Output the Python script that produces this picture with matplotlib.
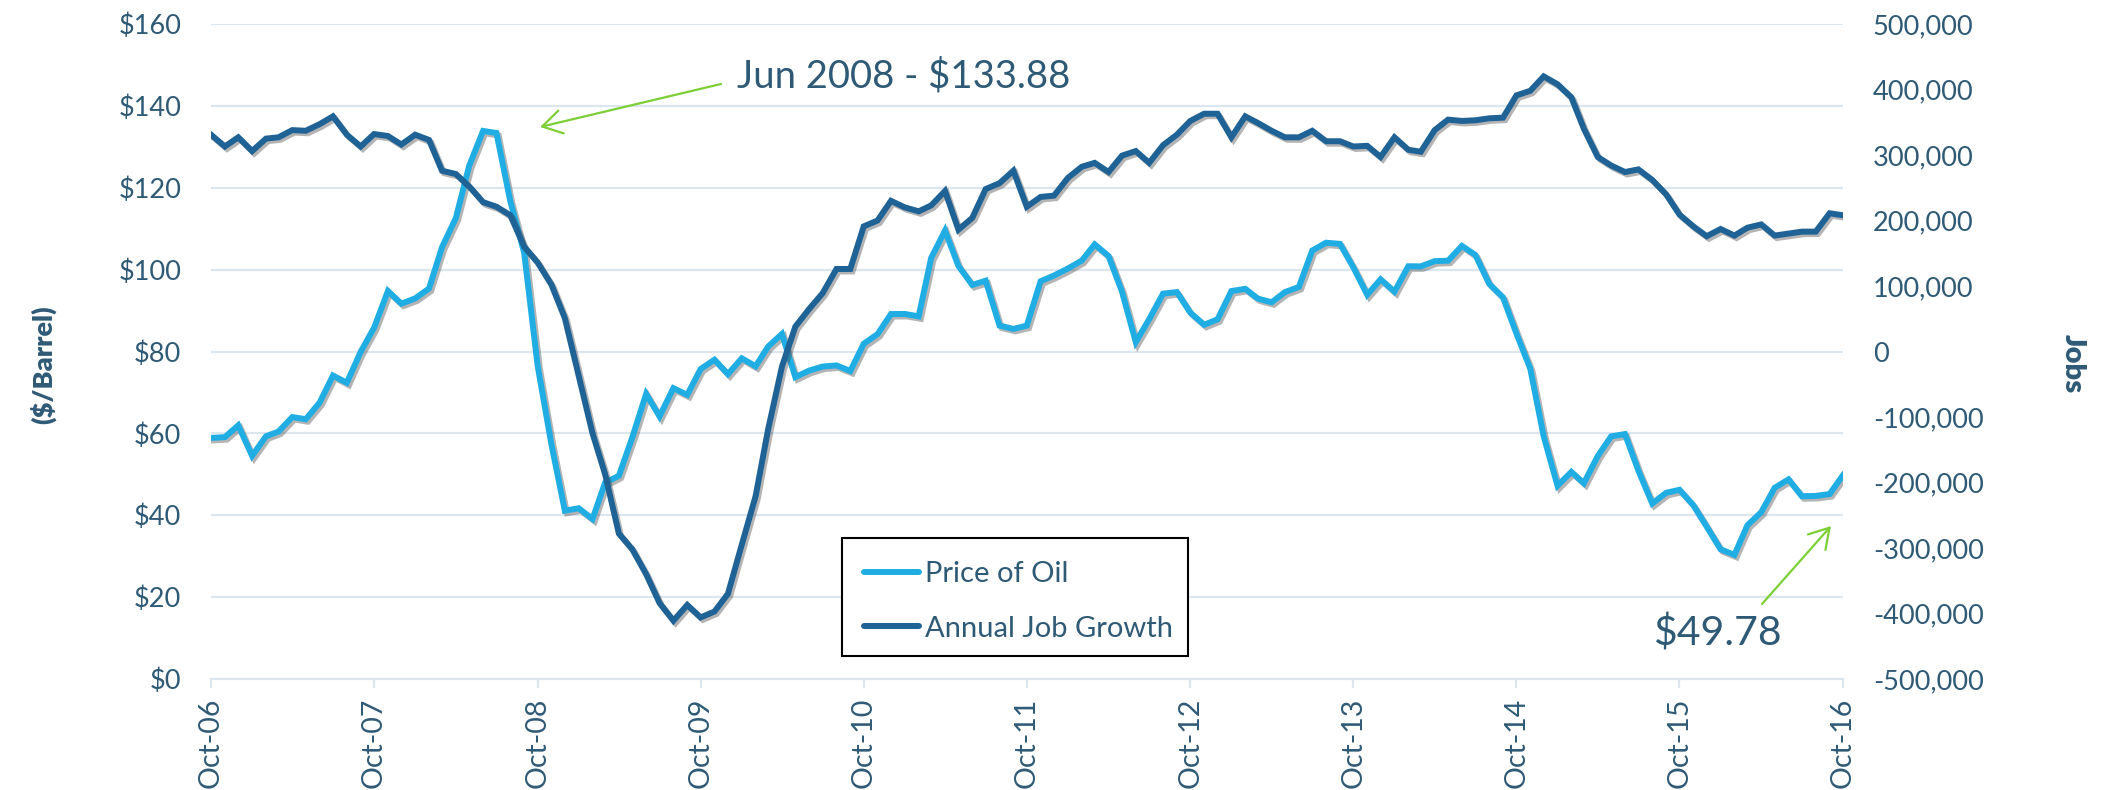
import matplotlib
matplotlib.use("Agg")
import matplotlib.pyplot as plt
import matplotlib.patheffects as pe
from matplotlib.lines import Line2D
from matplotlib.patches import Rectangle
import pandas as pd

plt.rcParams['font.family'] = ['Lato', 'DejaVu Sans']

# ---------------- data ----------------
start_month = "2006-10-01"
n_months = 121

oil_price = [
    58.89, 59.08, 61.96,
    54.51, 59.28, 60.44, 63.98, 63.46, 67.49, 74.12, 72.36, 79.92, 85.80, 94.77, 91.69,
    92.97, 95.39, 105.45, 112.58, 125.40, 133.88, 133.37, 116.67, 104.11, 76.61, 57.31, 41.12,
    41.71, 39.09, 47.94, 49.65, 59.03, 69.64, 64.15, 71.05, 69.41, 75.72, 77.99, 74.47,
    78.33, 76.39, 81.20, 84.29, 73.74, 75.34, 76.32, 76.60, 75.24, 81.89, 84.25, 89.15,
    89.17, 88.58, 102.86, 109.53, 100.90, 96.26, 97.30, 86.33, 85.52, 86.32, 97.16, 98.56,
    100.27, 102.20, 106.16, 103.32, 94.66, 82.30, 87.90, 94.13, 94.51, 89.49, 86.53, 87.86,
    94.76, 95.31, 92.94, 92.02, 94.51, 95.77, 104.67, 106.57, 106.29, 100.54, 93.86, 97.63,
    94.62, 100.82, 100.80, 102.07, 102.18, 105.79, 103.59, 96.54, 93.21, 84.40, 75.79, 59.29,
    47.22, 50.58, 47.82, 54.45, 59.27, 59.82, 50.90, 42.87, 45.48, 46.22, 42.44, 37.19,
    31.68, 30.32, 37.55, 40.75, 46.71, 48.76, 44.65, 44.72, 45.18, 49.78,
]

job_growth_k = [
    331, 313, 327,
    306, 325, 327, 338, 337, 347, 359, 331, 313, 332, 329, 316,
    331, 323, 276, 271, 252, 228, 221, 208, 160, 136, 102, 51,
    -37, -125, -187, -278, -302, -340, -384, -411, -387, -406, -397, -370,
    -295, -221, -119, -23, 38, 65, 89, 126, 126, 191, 200, 230,
    220, 214, 223, 245, 186, 204, 248, 257, 276, 221, 236, 238,
    265, 282, 288, 274, 299, 306, 288, 315, 331, 352, 363, 363,
    327, 359, 349, 337, 327, 327, 337, 321, 321, 313, 314, 297,
    327, 308, 305, 338, 354, 352, 353, 356, 357, 391, 398, 420,
    408, 388, 340, 297, 284, 274, 278, 262, 240, 209, 191, 176,
    187, 177, 189, 194, 177, 180, 183, 183, 211, 208,
]
job_growth = [v * 1000 for v in job_growth_k]

x_tick_labels = ["Oct-06", "Oct-07", "Oct-08", "Oct-09", "Oct-10", "Oct-11",
                 "Oct-12", "Oct-13", "Oct-14", "Oct-15", "Oct-16"]
price_ticks = [0, 20, 40, 60, 80, 100, 120, 140, 160]
job_ticks = [-500000, -400000, -300000, -200000, -100000, 0,
             100000, 200000, 300000, 400000, 500000]

series_names = ["Price of Oil", "Annual Job Growth"]
peak_label = "Jun 2008 - $133.88"
last_label = "$49.78"

dates = pd.date_range(start_month, periods=n_months, freq="MS")

# ---------------- style ----------------
LIGHT = "#1FADE4"
DARK = "#1E6296"
TEXT = "#2F5A76"
GRID = "#DCE6EE"
GREEN = "#7CCF36"

W, H = 2104, 790
fig = plt.figure(figsize=(W / 100, H / 100), dpi=100)
L, R, T, B = 211, 1843, 24, 679
ax = fig.add_axes([L / W, 1 - B / H, (R - L) / W, (B - T) / H])
ax2 = ax.twinx()

shadow = [pe.SimpleLineShadow(offset=(1.6, -1.8), shadow_color="#444444", alpha=0.4),
          pe.Normal()]

ax.plot(dates, oil_price, color=LIGHT, lw=4.3, solid_joinstyle="miter",
        path_effects=shadow, zorder=3)
ax2.plot(dates, job_growth, color=DARK, lw=4.3, solid_joinstyle="miter",
         path_effects=shadow, zorder=3)

ax.set_xlim(dates[0], dates[-1])
ax.set_ylim(price_ticks[0], price_ticks[-1])
ax2.set_ylim(job_ticks[0], job_ticks[-1])

ax.set_yticks(price_ticks)
ax.set_yticklabels([f"${v}" for v in price_ticks])
ax2.set_yticks(job_ticks)
ax2.set_yticklabels([f"{v:,}" for v in job_ticks])

ax.set_xticks(dates[::12])
ax.set_xticklabels(x_tick_labels, rotation=90)

ax.grid(axis="y", color=GRID, lw=1.6)
ax.set_axisbelow(True)
for s in ["top", "left", "right"]:
    ax.spines[s].set_visible(False)
    ax2.spines[s].set_visible(False)
ax2.spines["bottom"].set_visible(False)
ax.spines["bottom"].set_color(GRID)
ax.spines["bottom"].set_linewidth(1.6)

ax.tick_params(axis="x", length=6.5, width=1.6, color=GRID, labelcolor=TEXT,
               labelsize=20.5, pad=7)
ax.tick_params(axis="y", length=0, labelcolor=TEXT, labelsize=19.5, pad=21.5)
ax2.tick_params(axis="y", length=0, labelcolor=TEXT, labelsize=19.5, pad=21.5)

fig.text(43 / W, 1 - 365 / H, "($/Barrel)", rotation=90, ha="center", va="center",
         fontsize=19.5, fontweight="heavy", color=TEXT)
fig.text(2073 / W, 1 - 364 / H, "Jobs", rotation=270, ha="center", va="center",
         fontsize=21, fontweight="heavy", color=TEXT)

# legend: white box with black border, entries on top
box = Rectangle((842 / W, 1 - 656 / H), 346 / W, 118 / H, transform=fig.transFigure,
                facecolor="white", edgecolor="black", lw=1.5, zorder=5)
fig.add_artist(box)
handles = [Line2D([], [], color=LIGHT, lw=4.3, solid_capstyle="round"),
           Line2D([], [], color=DARK, lw=4.3, solid_capstyle="round")]
leg = fig.legend(handles, series_names, loc="upper left",
                 bbox_to_anchor=(864 / W, 1 - 561 / H), bbox_transform=fig.transFigure,
                 fontsize=21, frameon=False, borderpad=0, handlelength=1.9,
                 handletextpad=0.2, labelspacing=0.98, borderaxespad=0)
for t in leg.get_texts():
    t.set_color(TEXT)
leg.set_zorder(6)


def af(px, py):
    return ((px - L) / (R - L), (B - py) / (B - T))


arrow_kw = dict(arrowstyle="->,head_length=0.5,head_width=0.3", color=GREEN,
                lw=1.6, mutation_scale=28, shrinkA=0, shrinkB=0)
ax2.annotate("", xy=af(540, 127), xytext=af(721, 84), xycoords="axes fraction",
             textcoords="axes fraction", arrowprops=arrow_kw)
ax2.text(*af(737, 76), peak_label, transform=ax2.transAxes, ha="left", va="center",
         fontsize=27.5, color=TEXT)
ax2.annotate("", xy=af(1831, 526), xytext=af(1762, 604), xycoords="axes fraction",
             textcoords="axes fraction", arrowprops=arrow_kw, annotation_clip=False)
ax2.text(*af(1717, 634), last_label, transform=ax2.transAxes, ha="center", va="center",
         fontsize=29.5, color=TEXT)

fig.savefig("out.png", dpi=100, facecolor="white")
